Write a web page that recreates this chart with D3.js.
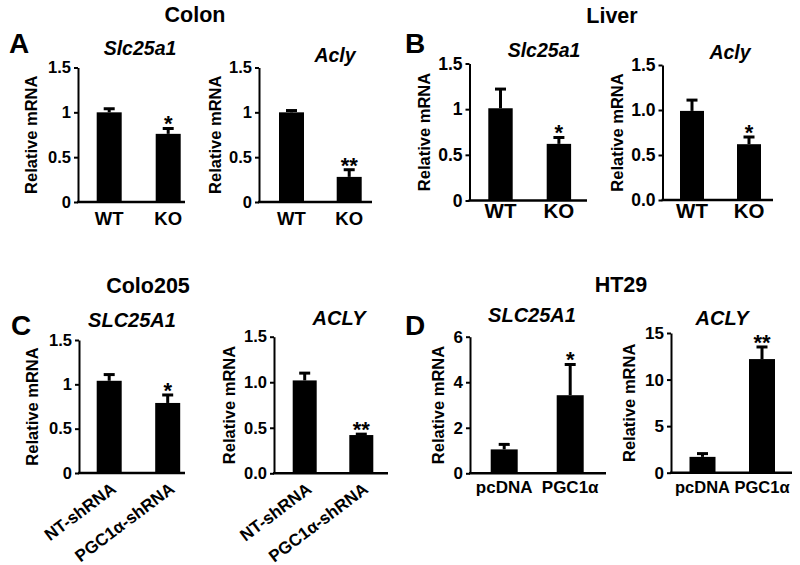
<!DOCTYPE html>
<html>
<head>
<meta charset="utf-8">
<script src="https://cdn.jsdelivr.net/npm/d3@7"></script>
<style>
  body { margin: 0; background: #fff; }
  svg { display: block; font-family: "Liberation Sans", Arial, Helvetica, sans-serif; font-weight: bold; }
</style>
</head>
<body>
<div id="chart"></div>
<script>
// groups on the x axis
var mouseGroups = ["WT", "KO"];
var colo205Groups = ["NT-shRNA", "PGC1α-shRNA"];
var ht29Groups = ["pcDNA", "PGC1α"];

// mean relative mRNA and upper error (SEM)
var colonSlc = [1.00, 0.76], colonSlcErr = [0.04, 0.06];
var colonAcly = [1.00, 0.28], colonAclyErr = [0.02, 0.08];
var liverSlc = [1.01, 0.62], liverSlcErr = [0.21, 0.07];
var liverAcly = [0.99, 0.62], liverAclyErr = [0.12, 0.08];
var coloSlc = [1.04, 0.79], coloSlcErr = [0.07, 0.09];
var coloAcly = [1.02, 0.42], coloAclyErr = [0.08, 0.01];
var htSlc = [1.05, 3.43], htSlcErr = [0.22, 1.35];
var htAcly = [1.7, 12.2], htAclyErr = [0.35, 1.3];

// significance marks
var sigOne = ["", "*"];
var sigTwo = ["", "**"];

// y ticks
var ticks15 = [0, 0.5, 1, 1.5];
var ticks6 = [0, 2, 4, 6];
var ticks15big = [0, 5, 10, 15];

var fmtPlain = d3.format("");
var fmtOne = d3.format(".1f");

var svg = d3.select("#chart").append("svg")
  .attr("width", 800)
  .attr("height", 565);

function addText(txt, x, y, size, anchor, italic) {
  return svg.append("text")
    .attr("x", x)
    .attr("y", y)
    .attr("font-size", size)
    .attr("text-anchor", anchor || "middle")
    .style("font-style", italic ? "italic" : "normal")
    .text(txt);
}

// row headings and panel letters
addText("Colon", 195, 22, 21.5);
addText("Liver", 612, 23, 21.5);
addText("Colo205", 148, 293, 21.5);
addText("HT29", 621, 292, 21.5);
addText("A", 9, 53, 28, "start");
addText("B", 405, 53, 28, "start");
addText("C", 11, 335, 28, "start");
addText("D", 405, 335, 28, "start");

// layout of each small plot (pixels), data is attached from the arrays above
var plots = [
  { title: "Slc25a1", tx: 140, ty: 55, tfs: 19.5, cats: mouseGroups, vals: colonSlc, errs: colonSlcErr, sig: sigOne,
    max: 1.5, ticks: ticks15, fmt: fmtPlain, ax: 78, top: 67.5, base: 202, right: 185,
    x0: 96.7, step: 59, bw: 25, tickFs: 16.5, labOff: 41, xfs: 18.5, xly: 225 },
  { title: "Acly", tx: 335, ty: 62, tfs: 19.5, cats: mouseGroups, vals: colonAcly, errs: colonAclyErr, sig: sigTwo,
    max: 1.5, ticks: ticks15, fmt: fmtPlain, ax: 259, top: 67.5, base: 202, right: 372,
    x0: 279, step: 57.7, bw: 25, tickFs: 16.5, labOff: 38, xfs: 18.5, xly: 225 },
  { title: "Slc25a1", tx: 544, ty: 57, tfs: 19.5, cats: mouseGroups, vals: liverSlc, errs: liverSlcErr, sig: sigOne,
    max: 1.5, ticks: ticks15, fmt: fmtPlain, ax: 469.5, top: 63.5, base: 200.5, right: 587,
    x0: 488.3, step: 58.4, bw: 24.4, tickFs: 17.5, labOff: 40, xfs: 20.5, xly: 218 },
  { title: "Acly", tx: 730, ty: 59, tfs: 19.5, cats: mouseGroups, vals: liverAcly, errs: liverAclyErr, sig: sigOne,
    max: 1.5, ticks: ticks15, fmt: fmtOne, ax: 662.5, top: 65, base: 200, right: 773,
    x0: 680, step: 57, bw: 24, tickFs: 17.5, labOff: 40, xfs: 20.5, xly: 218 },
  { title: "SLC25A1", tx: 132, ty: 327, tfs: 20, cats: colo205Groups, vals: coloSlc, errs: coloSlcErr, sig: sigOne,
    max: 1.5, ticks: ticks15, fmt: fmtPlain, ax: 79, top: 340, base: 473, right: 185,
    x0: 96.7, step: 58.5, bw: 25, tickFs: 16.5, labOff: 41, xfs: 17, rotate: true },
  { title: "ACLY", tx: 339, ty: 325, tfs: 20, cats: colo205Groups, vals: coloAcly, errs: coloAclyErr, sig: sigTwo,
    max: 1.5, ticks: ticks15, fmt: fmtOne, ax: 274, top: 336.7, base: 473.3, right: 388,
    x0: 292.7, step: 56.6, bw: 24, tickFs: 16.5, labOff: 39, xfs: 17, rotate: true },
  { title: "SLC25A1", tx: 532, ty: 322, tfs: 20, cats: ht29Groups, vals: htSlc, errs: htSlcErr, sig: sigOne,
    max: 6, ticks: ticks6, fmt: fmtPlain, ax: 470, top: 336.7, base: 473.3, right: 606,
    x0: 490.7, step: 66, bw: 27, tickFs: 17, labOff: 26, xfs: 17, xly: 493 },
  { title: "ACLY", tx: 722, ty: 325, tfs: 20, cats: ht29Groups, vals: htAcly, errs: htAclyErr, sig: sigTwo,
    max: 15, ticks: ticks15big, fmt: fmtPlain, ax: 671, top: 333, base: 472.7, right: 792,
    x0: 689.5, step: 59.5, bw: 26, tickFs: 17, labOff: 36, xfs: 16.5, xly: 493 }
];

function drawPlot(p) {
  var y = d3.scaleLinear().domain([0, p.max]).range([p.base, p.top]);
  var x = d3.scaleBand()
    .domain(p.cats)
    .range([p.x0, p.x0 + p.step + p.bw])
    .paddingInner(1 - p.bw / p.step)
    .paddingOuter(0);
  var mid = function (d) { return x(d.cat) + x.bandwidth() / 2; };

  var rows = p.cats.map(function (c, i) {
    return { cat: c, v: p.vals[i], e: p.errs[i], sig: p.sig[i] };
  });

  var g = svg.append("g");

  addText(p.title, p.tx, p.ty, p.tfs, "middle", true);

  // error bars (upper half only)
  g.selectAll(".err").data(rows).enter().append("line")
    .attr("class", "err")
    .attr("x1", mid).attr("x2", mid)
    .attr("y1", function (d) { return y(d.v); })
    .attr("y2", function (d) { return y(d.v + d.e); })
    .attr("stroke", "#000").attr("stroke-width", 3);

  g.selectAll(".cap").data(rows).enter().append("line")
    .attr("class", "cap")
    .attr("x1", function (d) { return mid(d) - 5.5; })
    .attr("x2", function (d) { return mid(d) + 5.5; })
    .attr("y1", function (d) { return y(d.v + d.e); })
    .attr("y2", function (d) { return y(d.v + d.e); })
    .attr("stroke", "#000").attr("stroke-width", 3);

  g.selectAll(".bar").data(rows).enter().append("rect")
    .attr("class", "bar")
    .attr("x", function (d) { return x(d.cat); })
    .attr("width", x.bandwidth())
    .attr("y", function (d) { return y(d.v); })
    .attr("height", function (d) { return y(0) - y(d.v); })
    .attr("fill", "#000");

  g.selectAll(".sig").data(rows).enter().append("text")
    .attr("class", "sig")
    .attr("x", mid)
    .attr("y", function (d) { return y(d.v + d.e) + 3; })
    .attr("text-anchor", "middle")
    .attr("font-size", 22)
    .text(function (d) { return d.sig; });

  // y axis
  var yAxis = g.append("g")
    .attr("transform", "translate(" + p.ax + ",0)")
    .call(d3.axisLeft(y).tickValues(p.ticks).tickFormat(p.fmt)
      .tickSize(4).tickSizeOuter(0).tickPadding(3));
  yAxis.attr("font-family", null).attr("font-size", p.tickFs);
  yAxis.select(".domain").attr("stroke-width", 2);
  yAxis.selectAll(".tick line").attr("stroke-width", 2);

  // x baseline
  g.append("line")
    .attr("x1", p.ax - 1).attr("x2", p.right)
    .attr("y1", y(0)).attr("y2", y(0))
    .attr("stroke", "#000").attr("stroke-width", 2.5);

  g.append("text")
    .attr("transform", "translate(" + (p.ax - p.labOff) + "," + ((p.top + p.base) / 2) + ") rotate(-90)")
    .attr("text-anchor", "middle")
    .attr("font-size", 16.5)
    .text("Relative mRNA");

  var xl = g.selectAll(".xlab").data(rows).enter().append("text")
    .attr("class", "xlab")
    .attr("font-size", p.xfs)
    .text(function (d) { return d.cat; });
  if (p.rotate) {
    xl.attr("text-anchor", "end")
      .attr("transform", function (d) {
        return "translate(" + (mid(d) + 8) + "," + (y(0) + 18) + ") rotate(-37)";
      });
  } else {
    xl.attr("text-anchor", "middle")
      .attr("x", mid)
      .attr("y", p.xly);
  }
}

plots.forEach(drawPlot);
</script>
</body>
</html>
